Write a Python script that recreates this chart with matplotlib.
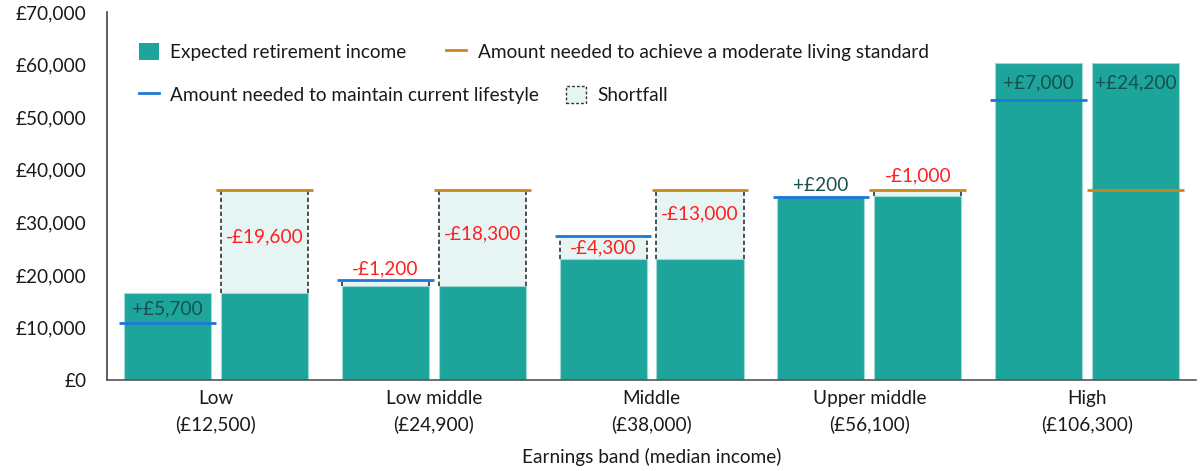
import numpy as np
import matplotlib
matplotlib.use("Agg")
import matplotlib.pyplot as plt
from matplotlib.patches import Patch, Rectangle
from matplotlib.lines import Line2D
from matplotlib.ticker import FuncFormatter

plt.rcParams['font.family'] = ['Lato', 'DejaVu Sans']

# data
bands = ["Low", "Low middle", "Middle", "Upper middle", "High"]
median_income = ["£12,500", "£24,900", "£38,000", "£56,100", "£106,300"]
expected_income = [16500, 17800, 23100, 35100, 60300]
current_lifestyle = [10800, 19000, 27400, 34900, 53300]
moderate_standard = [36100, 36100, 36100, 36100, 36100]

# where the gap labels sit (data units), left and right bar of each group
label_y_left = [13600, 21200, 25200, 37000, 56600]
label_y_right = [27300, 27900, 31600, 38800, 56600]

teal = '#1da59c'
short_fill = '#e6f4f3'
blue = '#1f78d6'
orange = '#c9861f'
red = '#ff1f1f'
pos_col = '#17504e'
txt = '#1a1a1a'
fs = 13.7

fig = plt.figure(figsize=(12, 4.71), dpi=100)
ax = fig.add_axes([0.0892, 0.193, 0.9075, 0.7815])

x = np.arange(len(bands))
w = 0.4
off = 0.2225
ext = 0.022


def money(v):
    s = "£{:,.0f}".format(abs(v))
    return ("+" if v >= 0 else "-") + s


def draw_pair(xc, income, target, line_col, ly):
    ax.bar(xc, income, width=w, color=teal, edgecolor='#9fd8d4', linewidth=0.8, zorder=2)
    if target > income:
        ax.add_patch(Rectangle((xc - w / 2, income), w, target - income,
                               facecolor=short_fill, edgecolor='none', zorder=1))
        ax.vlines([xc - w / 2, xc + w / 2], income, target, colors='#333333',
                  linestyles=(0, (2.6, 1.6)), linewidth=1.2, zorder=3)
    ax.hlines(target, xc - w / 2 - ext, xc + w / 2 + ext, colors=line_col,
              linewidth=2.0, zorder=4)
    diff = income - target
    ax.text(xc, ly, money(diff), ha='center', va='center', fontsize=fs,
            color=pos_col if diff >= 0 else red, zorder=5)


for i in range(len(bands)):
    draw_pair(x[i] - off, expected_income[i], current_lifestyle[i], blue, label_y_left[i])
    draw_pair(x[i] + off, expected_income[i], moderate_standard[i], orange, label_y_right[i])

ax.set_xlim(-0.5, 4.5)
ax.set_ylim(0, 70000)
ax.set_yticks(np.arange(0, 70001, 10000))
ax.yaxis.set_major_formatter(FuncFormatter(lambda v, p: "£{:,.0f}".format(v)))
ax.set_xticks(x)
ax.set_xticklabels([b + "\n(" + m + ")" for b, m in zip(bands, median_income)],
                   linespacing=1.55)
ax.tick_params(axis='y', length=0, pad=15, labelsize=fs, labelcolor=txt)
ax.tick_params(axis='x', length=0, pad=7, labelsize=fs, labelcolor=txt)
ax.set_xlabel("Earnings band (median income)", fontsize=fs, color=txt, labelpad=11)

for s in ['top', 'right']:
    ax.spines[s].set_visible(False)
ax.spines['left'].set_color('#444444')
ax.spines['bottom'].set_color('#555555')
ax.spines['left'].set_linewidth(1.2)
ax.spines['bottom'].set_linewidth(1.2)

h_income = Patch(facecolor=teal, edgecolor='none')
h_mod = Line2D([], [], color=orange, lw=2)
h_cur = Line2D([], [], color=blue, lw=2)
h_short = Patch(facecolor=short_fill, edgecolor='#333333', linestyle=(0, (2, 1.5)), linewidth=1)

leg1 = ax.legend([h_income, h_mod],
                 ["Expected retirement income", "Amount needed to achieve a moderate living standard"],
                 loc='upper left', bbox_to_anchor=(0.029, 0.917), ncol=2, frameon=False,
                 fontsize=fs, handlelength=1.05, handleheight=1.05, handletextpad=0.6,
                 columnspacing=2.1, borderpad=0, borderaxespad=0, labelcolor=txt)
ax.add_artist(leg1)
ax.legend([h_cur, h_short],
          ["Amount needed to maintain current lifestyle", "Shortfall"],
          loc='upper left', bbox_to_anchor=(0.029, 0.800), ncol=2, frameon=False,
          fontsize=fs, handlelength=1.05, handleheight=1.05, handletextpad=0.6,
          columnspacing=1.4, borderpad=0, borderaxespad=0, labelcolor=txt)

fig.savefig("out.png", dpi=100)
